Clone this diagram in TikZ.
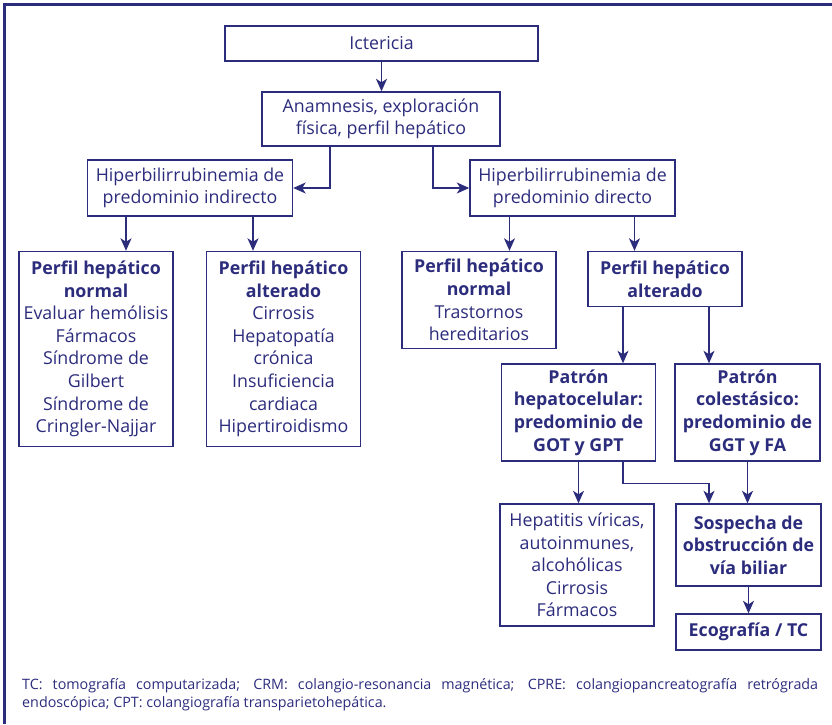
\documentclass[tikz,border=0pt]{standalone}
\usepackage{fontspec}
\setmainfont{Open Sans}
\usetikzlibrary{arrows.meta}
\definecolor{navy}{RGB}{44,44,125}
\begin{document}
\begin{tikzpicture}[x=1pt,y=-1pt,
 box/.style={draw=navy, line width=1.4pt, inner sep=0pt, align=center, text=navy,
   font=\fontsize{17.8}{22.6}\selectfont},
 arr/.style={draw=navy, line width=1.5pt, -{Stealth[length=12.5pt,width=11pt,inset=3.5pt]}},
]
\useasboundingbox (0,0) rectangle (832,724);
% frame
\draw[navy, line width=2.8pt] (4.5,724) -- (4.5,4.7) -- (832,4.7);

\node[box, minimum width=313pt, minimum height=35pt] (ict) at (381.5,43.5) {Ictericia};
\node[box, minimum width=238pt, minimum height=54pt] (anam) at (381,119) {Anamnesis, exploración\\física, perfil hepático};
\node[box, minimum width=205pt, minimum height=56pt] (ind) at (190,188) {Hiperbilirrubinemia de\\predominio indirecto};
\node[box, minimum width=205pt, minimum height=56pt] (dir) at (572.5,188) {Hiperbilirrubinemia de\\predominio directo};

\node[box, minimum width=154pt, minimum height=195pt] (phnL) at (96,349) {\textbf{Perfil hepático}\\\textbf{normal}\\Evaluar hemólisis\\Fármacos\\Síndrome de\\Gilbert\\Síndrome de\\Cringler-Najjar};
\node[box, minimum width=154pt, minimum height=195pt] (phaL) at (283.5,349) {\textbf{Perfil hepático}\\\textbf{alterado}\\Cirrosis\\Hepatopatía\\crónica\\Insuficiencia\\cardiaca\\Hipertiroidismo};
\node[box, minimum width=154pt, minimum height=97pt] (phnR) at (479,300) {\textbf{Perfil hepático}\\\textbf{normal}\\Trastornos\\hereditarios};
\node[box, minimum width=154pt, minimum height=55pt] (phaR) at (665,279) {\textbf{Perfil hepático}\\\textbf{alterado}};

\node[box, minimum width=154pt, minimum height=97pt] (hep) at (578.5,412.5) {\textbf{Patrón}\\\textbf{hepatocelular:}\\\textbf{predominio de}\\\textbf{GOT y GPT}};
\node[box, minimum width=145pt, minimum height=97pt] (col) at (747.5,412.5) {\textbf{Patrón}\\\textbf{colestásico:}\\\textbf{predominio de}\\\textbf{GGT y FA}};

\node[box, minimum width=154pt, minimum height=122pt] (hepat) at (577,565) {Hepatitis víricas,\\autoinmunes,\\alcohólicas\\Cirrosis\\Fármacos};
\node[box, minimum width=145pt, minimum height=82pt] (sosp) at (748.5,545) {\textbf{Sospecha de}\\\textbf{obstrucción de}\\\textbf{vía biliar}};
\node[box, minimum width=145pt, minimum height=36pt] (eco) at (748.5,632) {\textbf{Ecografía / TC}};

\node[anchor=base west, inner sep=0pt, text=navy, font=\fontsize{14.3}{18.5}\selectfont] (foot) at (22,689)
 {\parbox[t]{796pt}{\hyphenpenalty=10000 TC: tomografía computarizada; CRM: colangio-resonancia magnética; CPRE: colangiopancreatografía retrógrada\linebreak endoscópica; CPT: colangiografía transparietohepática.}};

% connectors
\draw[arr] (ict.south) -- (ict.south |- anam.north);
\coordinate (a1) at ([xshift=-51pt]anam.south);
\coordinate (a2) at ([xshift=52pt]anam.south);
\draw[arr] (a1) |- (ind.east);
\draw[arr] (a2) |- (dir.west);

\coordinate (i1) at ([xshift=-64pt]ind.south);
\coordinate (i2) at ([xshift=63pt]ind.south);
\draw[arr] (i1) -- (i1 |- phnL.north);
\draw[arr] (i2) -- (i2 |- phaL.north);

\coordinate (d1) at ([xshift=-63pt]dir.south);
\coordinate (d2) at ([xshift=62pt]dir.south);
\draw[arr] (d1) -- (d1 |- phnR.north);
\draw[arr] (d2) -- (d2 |- phaR.north);

\coordinate (p1) at ([xshift=-42pt]phaR.south);
\coordinate (p2) at ([xshift=44pt]phaR.south);
\draw[arr] (p1) -- (p1 |- hep.north);
\draw[arr] (p2) -- (p2 |- col.north);

\draw[arr] (hep.south) -- (hep.south |- hepat.north);
\coordinate (h2) at ([xshift=44.5pt]hep.south);
\coordinate (s2) at ([xshift=-39.5pt]sosp.north);
\draw[arr] (h2) -- ++(0,22) -| (s2);
\draw[arr] (col.south) -- (col.south |- sosp.north);
\draw[arr] (sosp.south) -- (eco.north);
\end{tikzpicture}
\end{document}
